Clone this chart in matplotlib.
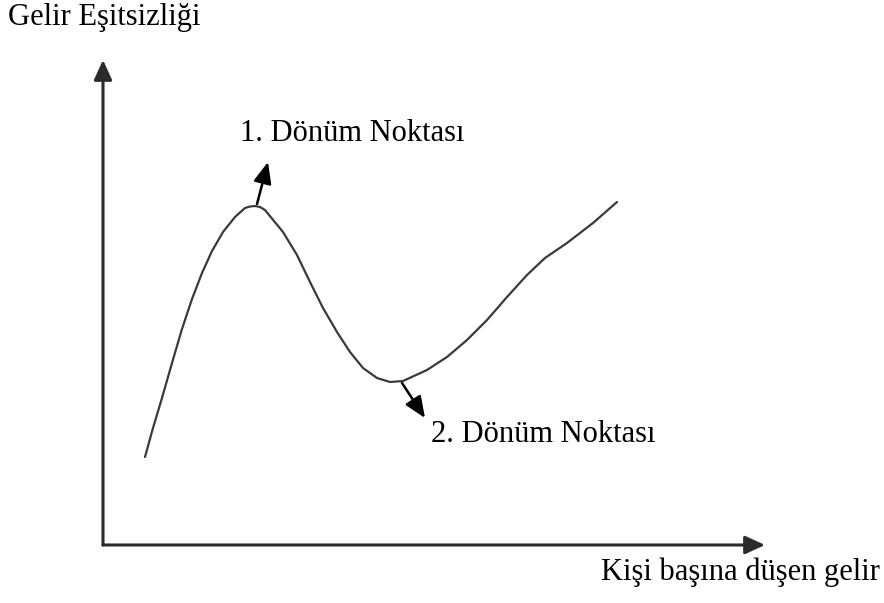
import numpy as np
import matplotlib.pyplot as plt

plt.rcParams['font.family'] = ['Liberation Serif', 'DejaVu Serif']

# curve (x: income, y: inequality, origin at the axes corner)
curve_x = [42, 50, 59, 69, 79, 89, 99, 109, 120, 132, 142, 147, 152, 157, 162,
           180, 194, 207, 220, 234, 247, 260, 274, 287, 300, 324, 344, 364,
           384, 404, 424, 442, 464, 490, 514]
curve_y = [88, 117, 147, 182, 216, 246, 272, 294, 313, 328, 337, 338.5, 339, 338, 335,
           313, 290, 263, 237, 213, 193, 177, 167, 163, 164, 175, 188, 205,
           225, 248, 270, 287, 302, 322, 343]

y_label = 'Gelir Eşitsizliği'
x_label = 'Kişi başına düşen gelir'
point_labels = ['1. Dönüm Noktası', '2. Dönüm Noktası']

fig = plt.figure(figsize=(8.84, 6.03), dpi=100)
ax = fig.add_axes([0, 0, 1, 1])
ax.set_xlim(-103, 781)
ax.set_ylim(-58, 545)
ax.axis('off')

axis_col = '#2b2b2b'
ax_arrow = dict(arrowstyle='-|>,head_length=1.2,head_width=0.55', mutation_scale=10,
                color=axis_col, lw=2.2, shrinkA=0, shrinkB=0)
ax.annotate('', xy=(0, 485), xytext=(0, 0), arrowprops=ax_arrow)
ax.annotate('', xy=(662, 0), xytext=(0, 0), arrowprops=ax_arrow)

ax.plot(curve_x, curve_y, color='#3a3a3a', lw=1.6, solid_capstyle='round',
        solid_joinstyle='round')

cx = np.array(curve_x)
cy = np.array(curve_y)
i_peak = int(np.argmax(cy[:18]))
i_trough = 18 + int(np.argmin(cy[18:]))

pt_arrow = dict(arrowstyle='-|>,head_length=1.3,head_width=0.55', mutation_scale=10,
                color='black', lw=1.8, shrinkA=0, shrinkB=0)
ax.annotate('', xy=(cx[i_peak] + 13, cy[i_peak] + 44),
            xytext=(cx[i_peak] + 2, cy[i_peak] + 2), arrowprops=pt_arrow)
ax.annotate('', xy=(cx[i_trough] + 35, cy[i_trough] - 36),
            xytext=(cx[i_trough] + 12, cy[i_trough] - 1), arrowprops=pt_arrow)

fs = 22
ax.text(-95, 520, y_label, fontsize=fs, ha='left', va='baseline')
ax.text(137, 404, point_labels[0], fontsize=fs, ha='left', va='baseline')
ax.text(328, 103, point_labels[1], fontsize=fs, ha='left', va='baseline')
ax.text(498, -35, x_label, fontsize=fs, ha='left', va='baseline')

fig.savefig('out.png', dpi=100)
